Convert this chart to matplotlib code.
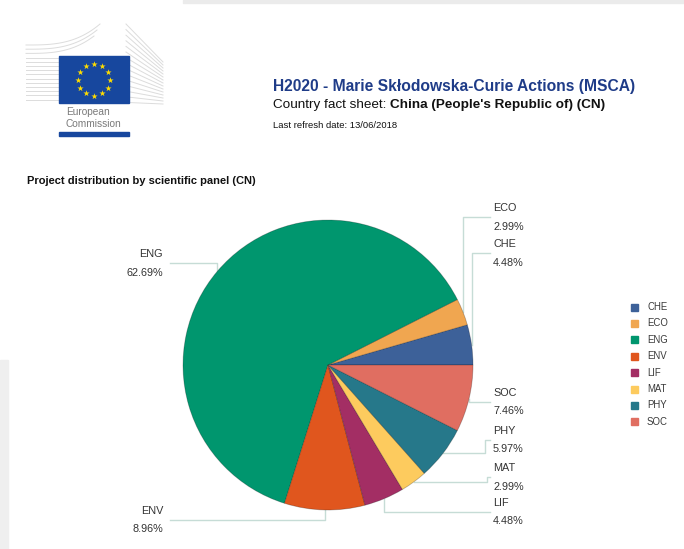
import numpy as np
import matplotlib
matplotlib.use("Agg")
import matplotlib.pyplot as plt
from matplotlib.patches import Rectangle

plt.rcParams['font.family'] = ['Liberation Sans', 'DejaVu Sans']

# --- data -------------------------------------------------------------
panels = ['CHE', 'ECO', 'ENG', 'ENV', 'LIF', 'MAT', 'PHY', 'SOC']
projects = [3, 2, 42, 6, 3, 2, 4, 5]
panel_colors = ['#3d6199', '#f0a650', '#00966e', '#e0561e',
                '#a32e64', '#fdcb5e', '#26788a', '#e06e61']

title = 'H2020 - Marie Skłodowska-Curie Actions (MSCA)'
country_prefix = 'Country fact sheet: '
country_name = "China (People's Republic of) (CN)"
refresh_text = 'Last refresh date: 13/06/2018'
chart_title = 'Project distribution by scientific panel (CN)'

# label layout: side, y of the connector line, x of the elbow (None = at slice)
label_side = {'CHE': 'right', 'ECO': 'right', 'ENG': 'left', 'ENV': 'left',
              'LIF': 'right', 'MAT': 'right', 'PHY': 'right', 'SOC': 'right'}
label_y = {'CHE': 253, 'ECO': 217, 'ENG': 263, 'ENV': 520,
           'LIF': 512, 'MAT': 477, 'PHY': 440, 'SOC': 402}
label_crook = {'PHY': 485, 'MAT': 487}

W, H = 684, 549
fig = plt.figure(figsize=(W / 100, H / 100), dpi=100)
ax = fig.add_axes([0, 0, 1, 1])

# pie, drawn in pixel-like data units
cx, cy, r = 328, 365, 145
wedges, _ = ax.pie(projects, colors=panel_colors, startangle=0, counterclock=False,
                   center=(cx, cy), radius=r,
                   wedgeprops=dict(edgecolor=(0, 0, 0, 0.25), linewidth=0.6))
ax.set_xlim(0, W)
ax.set_ylim(H, 0)
ax.set_aspect('auto')
ax.axis('off')

total = sum(projects)
line_color = '#c6dcd6'
lbl_size = 7.8
for name, cnt, w in zip(panels, projects, wedges):
    mid = np.deg2rad((w.theta1 + w.theta2) / 2)
    axp, ayp = cx + r * np.cos(mid), cy + r * np.sin(mid)
    ly = label_y[name]
    right = label_side[name] == 'right'
    end_x = 490 if right else 170
    if name in label_crook:
        k = label_crook[name]
        xs, ys = [axp, k, k, end_x], [ayp, ayp, ly, ly]
    else:
        xs, ys = [axp, axp, end_x], [ayp, ly, ly]
    ax.plot(xs, ys, color=line_color, lw=1.0, zorder=0.5)
    tx = 493 if right else 163
    ha = 'left' if right else 'right'
    ax.text(tx, ly - 9, name, ha=ha, va='center', fontsize=lbl_size, color='#333333')
    ax.text(tx, ly + 9.5, f'{100 * cnt / total:.2f}%', ha=ha, va='center',
            fontsize=lbl_size, color='#333333')

# legend
for i, (name, col) in enumerate(zip(panels, panel_colors)):
    yy = 307 + i * 16.4
    ax.add_patch(Rectangle((631, yy - 3.5), 7, 7, color=col, zorder=3))
    ax.text(647, yy, name, ha='left', va='center', fontsize=6.9, color='#3a3a3a')

# header texts
ax.text(273, 86, title, ha='left', va='center', fontsize=11.25, fontweight='bold',
        color='#1f3c88')
t1 = ax.text(273, 105, country_prefix, ha='left', va='center', fontsize=9.7,
             color='#111111')
ax.annotate(country_name, xy=(1, 0), xycoords=t1, ha='left', va='bottom',
            fontsize=9.7, fontweight='bold', color='#111111')
ax.text(273, 126, refresh_text, ha='left', va='center', fontsize=6.8, color='#111111')
ax.text(27, 181, chart_title, ha='left', va='center', fontsize=8.0,
        fontweight='bold', color='#111111')

# page decoration
ax.add_patch(Rectangle((183, 0), W - 183, 3, color='#ebebeb', zorder=0))
ax.add_patch(Rectangle((0, 360), 8, H - 360, color='#efefef', zorder=0))

# European Commission logo (simplified)
grey = '#dcdcdc'
for i in range(14):
    y0 = 45 + i * 4.2
    if i < 3:
        xe = 100 - i * 3
        ye = 24 + i * 6
        xx = np.linspace(26, xe, 40)
        yy = y0 - (y0 - ye) * ((xx - 26) / (xe - 26)) ** 3
    else:
        xx = np.array([26, 60])
        yy = np.array([y0, y0])
    ax.plot(xx, yy, color=grey, lw=0.7, zorder=1)
for i in range(15):
    ax.plot([126, 163], [24 + i * 5.6, 62 + i * 3], color=grey, lw=0.7, zorder=1)
ax.add_patch(Rectangle((59, 56), 70, 47, color='#17479e', zorder=2))
ang = np.linspace(0, 2 * np.pi, 12, endpoint=False)
ax.scatter(94 + 16 * np.cos(ang), 79.5 + 16 * np.sin(ang), marker='*', s=22,
           color='#ffdd00', linewidths=0, zorder=3)
ax.text(66, 112, 'European', ha='left', va='center', fontsize=7.3, color='#7a7a7a')
ax.text(66, 124, 'Commission', ha='left', va='center', fontsize=7.3, color='#7a7a7a')
ax.add_patch(Rectangle((59, 132), 70, 4, color='#17479e', zorder=2))

fig.savefig('out.png', dpi=100)
